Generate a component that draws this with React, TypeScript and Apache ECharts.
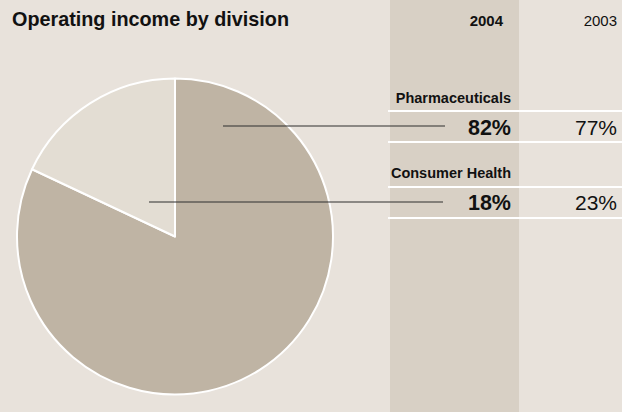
import React, { useEffect, useRef } from "react";
import * as echarts from "echarts";

const title = "Operating income by division";
const years = ["2004", "2003"];
const categories = ["Pharmaceuticals", "Consumer Health"];
const values2004 = [82, 18];
const values2003 = [77, 23];

const FONT = '"Liberation Sans", Arial, sans-serif';
const BG = "#E8E2DB";
const COL = "#D8D0C5";
const DARK = "#BFB4A4";
const LIGHT = "#E3DDD3";
const INK = "#111111";

export default function App() {
  const ref = useRef<HTMLDivElement>(null);
  useEffect(() => {
    document.body.style.margin = "0";
    const chart = echarts.init(ref.current!, undefined, { renderer: "svg" });

    const rowLabelY = [97.5, 173];
    const rowValueY = [127.5, 202.5];
    const rowLines = [
      [111, 142],
      [187, 218],
    ];
    const leaders = [
      { x1: 223, y: 126, x2: 445 },
      { x1: 149, y: 202, x2: 443 },
    ];

    const graphics: any[] = [
      { type: "rect", z: -10, shape: { x: 390, y: 0, width: 129, height: 412 }, style: { fill: COL }, silent: true },
      {
        type: "text",
        style: { x: 12, y: 19, text: title, font: `bold 19.8px ${FONT}`, fill: INK, textVerticalAlign: "middle" },
      },
      {
        type: "text",
        style: { x: 503, y: 20.5, text: years[0], font: `bold 15px ${FONT}`, fill: INK, textAlign: "right", textVerticalAlign: "middle" },
      },
      {
        type: "text",
        style: { x: 617, y: 20.5, text: years[1], font: `15px ${FONT}`, fill: INK, textAlign: "right", textVerticalAlign: "middle" },
      },
    ];

    categories.forEach((c, i) => {
      graphics.push({
        type: "text",
        style: { x: 511, y: rowLabelY[i], text: c, font: `bold 14.5px ${FONT}`, fill: INK, textAlign: "right", textVerticalAlign: "middle" },
      });
      graphics.push({
        type: "text",
        style: { x: 511, y: rowValueY[i], text: values2004[i] + "%", font: `bold 21.5px ${FONT}`, fill: INK, textAlign: "right", textVerticalAlign: "middle" },
      });
      graphics.push({
        type: "text",
        style: { x: 617, y: rowValueY[i], text: values2003[i] + "%", font: `21px ${FONT}`, fill: INK, textAlign: "right", textVerticalAlign: "middle" },
      });
      rowLines[i].forEach((y) => {
        graphics.push({
          type: "line",
          shape: { x1: 388, y1: y, x2: 622, y2: y },
          style: { stroke: "#FFFFFF", lineWidth: 2 },
        });
      });
      const l = leaders[i];
      graphics.push({
        type: "line",
        z: 100,
        shape: { x1: l.x1, y1: l.y, x2: l.x2, y2: l.y },
        style: { stroke: "#2E2E2E", lineWidth: 1.2 },
      });
    });

    chart.setOption({
      animation: false,
      backgroundColor: BG,
      graphic: graphics,
      series: [
        {
          type: "pie",
          center: [175, 236.5],
          radius: 158,
          startAngle: 90,
          clockwise: true,
          label: { show: false },
          labelLine: { show: false },
          silent: true,
          itemStyle: { borderColor: "#FFFFFF", borderWidth: 2 },
          data: categories.map((c, i) => ({
            name: c,
            value: values2004[i],
            itemStyle: { color: i === 0 ? DARK : LIGHT },
          })),
        },
      ],
    });
    return () => chart.dispose();
  }, []);
  return <div ref={ref} style={{ width: 622, height: 412 }} />;
}
